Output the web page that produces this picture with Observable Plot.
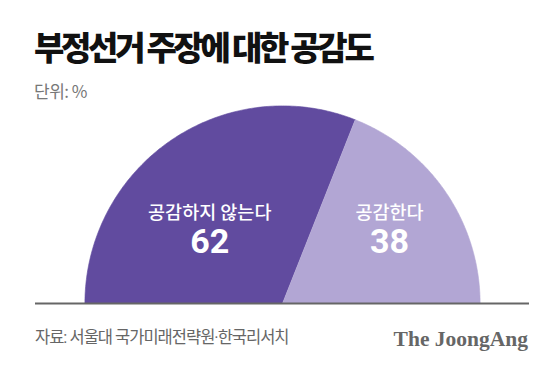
<!DOCTYPE html>
<html>
<head>
<meta charset="utf-8">
<script src="https://cdn.jsdelivr.net/npm/d3@7"></script>
<script src="https://cdn.jsdelivr.net/npm/@observablehq/plot@0.6"></script>
<style>
  html, body { margin: 0; padding: 0; background: #fff; }
  #wrap { position: relative; width: 560px; height: 370px; background: #fff; font-family: "Noto Sans CJK KR", "Noto Sans", sans-serif; overflow: hidden; }
  #title { position: absolute; left: 34px; top: 27px; font-size: 33px; font-weight: 900; letter-spacing: -3.3px; line-height: 1.2; color: #111; white-space: nowrap; }
  #sub { position: absolute; left: 34px; top: 81px; font-size: 17px; letter-spacing: -0.5px; color: #777; line-height: 1.2; white-space: nowrap; }
  #chart { position: absolute; left: 0; top: 95px; }
  #src { position: absolute; left: 35px; top: 328px; font-family: Roboto, "Noto Sans CJK KR", sans-serif; font-size: 16.5px; letter-spacing: -1px; color: #666; line-height: 1.2; white-space: nowrap; }
  #logo { position: absolute; right: 32px; top: 327px; font-family: "Liberation Serif", "DejaVu Serif", serif; font-weight: 700; font-size: 21.5px; color: #666; line-height: 1.2; white-space: nowrap; }
</style>
</head>
<body>
<div id="wrap">
  <div id="title"></div>
  <div id="sub"></div>
  <div id="chart"></div>
  <div id="src"></div>
  <div id="logo"></div>
</div>
<script>
// ---- data ----
const titleText = "부정선거 주장에 대한 공감도";
const subtitleText = "단위: %";
const sourceText = "자료: 서울대 국가미래전략원·한국리서치";
const logoText = "The JoongAng";
const categories = ["공감하지 않는다", "공감한다"];
const values = [62, 38];
const colors = ["#614B9F", "#B2A6D4"];

document.getElementById("title").textContent = titleText;
document.getElementById("sub").textContent = subtitleText;
document.getElementById("src").textContent = sourceText;
document.getElementById("logo").textContent = logoText;

// ---- build half-pie wedges from values ----
const total = d3.sum(values);
let acc = 0;
const wedges = [];
const labels = [];
categories.forEach((c, i) => {
  const a0 = Math.PI * (1 - acc / total);
  acc += values[i];
  const a1 = Math.PI * (1 - acc / total);
  const n = 160;
  wedges.push({cat: c, x: 0, y: 0});
  for (let k = 0; k <= n; k++) {
    const a = a0 + (a1 - a0) * k / n;
    wedges.push({cat: c, x: Math.cos(a), y: Math.sin(a)});
  }
  const mid = (a0 + a1) / 2;
  labels.push({cat: c, value: values[i], x: 0.655 * Math.cos(mid)});
});

const chart = Plot.plot({
  width: 560,
  height: 220,
  marginLeft: 35,
  marginRight: 31,
  marginTop: 10.4,
  marginBottom: 12,
  x: {domain: [-1.25, 1.25], axis: null},
  y: {domain: [0, 1], axis: null},
  color: {domain: categories, range: colors},
  style: {background: "transparent", fontFamily: "'Noto Sans CJK KR', 'Noto Sans', sans-serif"},
  marks: [
    Plot.line(wedges, {x: "x", y: "y", z: "cat", fill: "cat", stroke: "cat", strokeWidth: 0.6}),
    Plot.ruleY([0], {stroke: "#666", strokeWidth: 2}),
    Plot.text(labels, {x: "x", y: () => 0.46, text: "cat", fill: "white", fontSize: 18.5, fontWeight: 500, letterSpacing: "-0.3px"}),
    Plot.text(labels, {x: "x", y: () => 0.31, text: d => String(d.value), fill: "white", fontSize: 34, fontWeight: 700, fontFamily: "Roboto, 'Noto Sans', sans-serif"})
  ]
});
document.getElementById("chart").appendChild(chart);
</script>
</body>
</html>
